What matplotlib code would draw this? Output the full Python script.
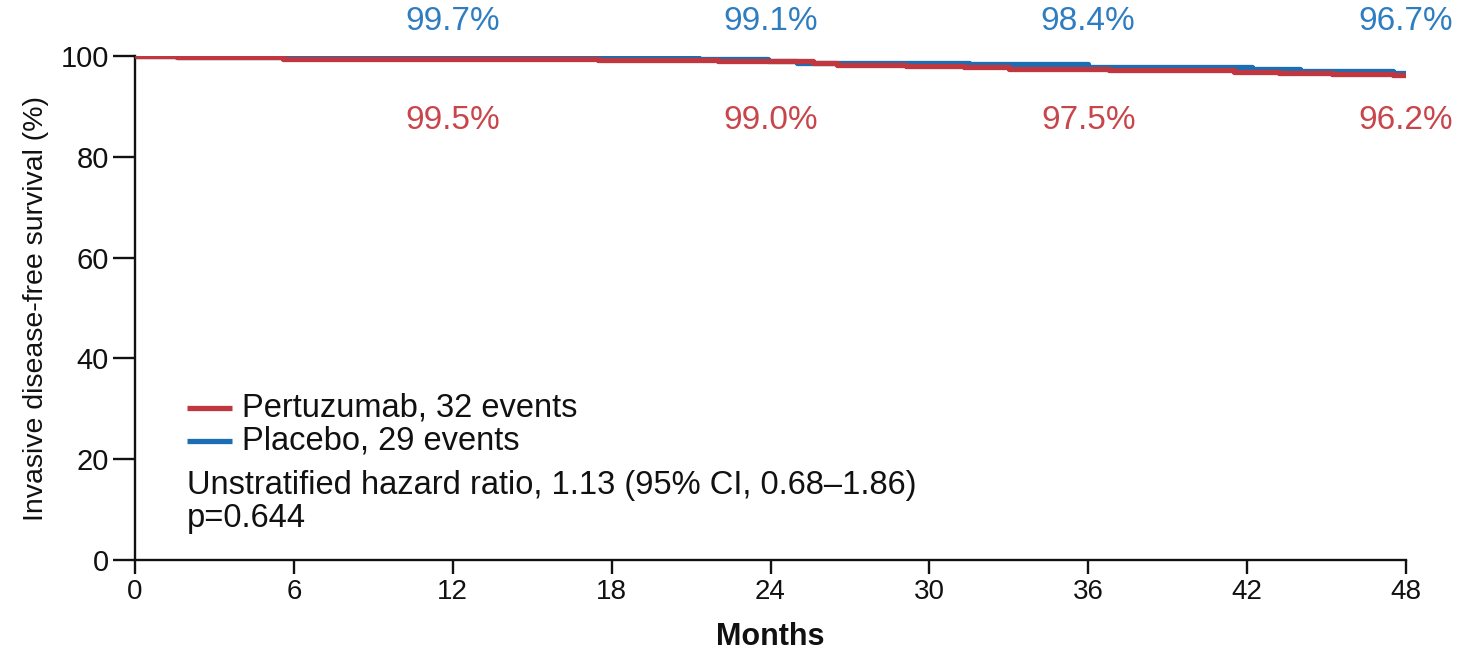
import matplotlib
matplotlib.use('Agg')
from matplotlib import pyplot as plt

# Kaplan-Meier step points (months, % event free)
pertuzumab_t = [0, 1.6, 5.6, 17.5, 19.1, 22.0, 25.6, 26.5, 29.1, 31.3, 33.0, 36.8, 41.5, 43.2, 45.2, 47.5, 48]
pertuzumab_s = [100, 99.8, 99.5, 99.3, 99.15, 99.0, 98.6, 98.2, 98.0, 97.8, 97.5, 97.2, 96.9, 96.7, 96.45, 96.2, 96.2]
placebo_t = [0, 1.6, 5.6, 21.3, 23.9, 25.0, 31.5, 36.0, 42.2, 44.0, 47.5, 48]
placebo_s = [100, 99.85, 99.7, 99.4, 99.1, 98.7, 98.4, 97.9, 97.5, 97.1, 96.7, 96.7]

# landmark estimates printed above/below the curves
landmark_months = [12, 24, 36, 48]
pertuzumab_pct = [99.5, 99.0, 97.5, 96.2]
placebo_pct = [99.7, 99.1, 98.4, 96.7]

x_ticks = [0, 6, 12, 18, 24, 30, 36, 42, 48]
y_ticks = [0, 20, 40, 60, 80, 100]

RED = '#c1373f'
BLUE = '#1c6eb4'
RED_TXT = '#c8464b'
BLUE_TXT = '#2e7dc0'
INK = '#111111'

plt.rcParams['font.family'] = ['Liberation Sans', 'DejaVu Sans']

fig = plt.figure(figsize=(14.65, 6.5), dpi=100)
ax = fig.add_axes([0.0922, 0.1385, 0.8675, 0.7753])

ax.step(placebo_t, placebo_s, where='post', color=BLUE, lw=3.8, solid_capstyle='butt', zorder=3)
ax.step(pertuzumab_t, pertuzumab_s, where='post', color=RED, lw=3.8, solid_capstyle='butt', zorder=3)

for m, v in zip(landmark_months, placebo_pct):
    ax.text(m, 106.8, '%.1f%%' % v, color=BLUE_TXT, fontsize=24, ha='center', va='center', clip_on=False)
for m, v in zip(landmark_months, pertuzumab_pct):
    ax.text(m, 87.3, '%.1f%%' % v, color=RED_TXT, fontsize=24, ha='center', va='center', clip_on=False)

ax.set_xlim(0, 48)
ax.set_ylim(0, 100)
ax.set_xticks(x_ticks)
ax.set_yticks(y_ticks)
ax.spines['top'].set_visible(False)
ax.spines['right'].set_visible(False)
for side in ('left', 'bottom'):
    ax.spines[side].set_linewidth(1.7)
    ax.spines[side].set_color(INK)
ax.tick_params(axis='y', length=16, width=1.7, pad=3, labelsize=21, colors=INK)
ax.tick_params(axis='x', length=10, width=1.7, pad=4, labelsize=20, colors=INK)

ax.set_ylabel('Invasive disease-free survival (%)', fontsize=20.5, labelpad=8, color=INK)
ax.set_xlabel('Months', fontsize=22, fontweight='bold', labelpad=12, color=INK)

# legend and hazard ratio text
tr = ax.transAxes
ax.plot([0.041, 0.076], [0.302, 0.302], transform=tr, color=RED, lw=3.8, solid_capstyle='butt')
ax.plot([0.041, 0.076], [0.236, 0.236], transform=tr, color=BLUE, lw=3.8, solid_capstyle='butt')
ax.text(0.084, 0.302, 'Pertuzumab, 32 events', transform=tr, fontsize=23.5, va='center', color=INK)
ax.text(0.084, 0.236, 'Placebo, 29 events', transform=tr, fontsize=23.5, va='center', color=INK)
ax.text(0.041, 0.147, 'Unstratified hazard ratio, 1.13 (95% CI, 0.68\u20131.86)', transform=tr,
        fontsize=23.5, va='center', color=INK)
ax.text(0.041, 0.083, 'p=0.644', transform=tr, fontsize=23.5, va='center', color=INK)

fig.savefig('out.png', dpi=100)
